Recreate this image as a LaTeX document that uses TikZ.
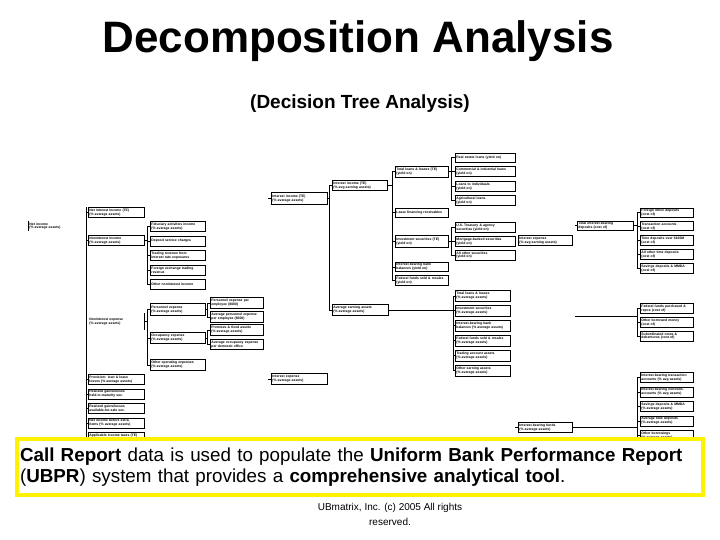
\documentclass[tikz,border=0pt]{standalone}
\usepackage{fontspec}
\setmainfont{Liberation Sans}
\usetikzlibrary{positioning}

\begin{document}
\begin{tikzpicture}[
    x=1pt, y=-1pt,
    node distance=3.6pt,
    block/.style={rectangle, draw, line width=0.9pt, minimum height=10pt, inner sep=1pt, text width=52pt, align=left, font=\fontsize{3.4}{3.7}\selectfont\bfseries},
    openblock/.style={block, draw=none},
    link/.style={line width=0.9pt},
    headline/.style={anchor=base, font=\fontsize{44}{48}\selectfont\bfseries},
    subline/.style={anchor=base, font=\fontsize{19}{22}\selectfont\bfseries},
    note/.style={draw=yellow, line width=4pt, fill=white, minimum width=686pt, minimum height=56pt, text width=680pt, inner sep=2pt, align=left, font=\fontsize{18.8}{21}\selectfont},
    footer/.style={anchor=north, align=center, font=\fontsize{10}{15}\selectfont}
]
\useasboundingbox (0,0) rectangle (720,540);

\node[headline] (head) at (358,53) {Decomposition Analysis};
\node[subline] (sub) at (360,109) {(Decision Tree Analysis)};

% first level
\node[openblock, anchor=west, text width=40pt] (netinc) at (28,226) {Net income\\(\% average assets)};
\draw[link] (netinc.north west) -- (netinc.south west);

\node[block, anchor=north west, text width=54pt] (a1) at (88,207) {Net interest income (TE)\\(\% average assets)};
\node[block, anchor=north west, text width=54pt] (a2) at (88,235) {Noninterest income\\(\% average assets)};
\node[openblock, anchor=north west, text width=54pt, minimum height=16pt] (a3) at (88,313) {Noninterest expense\\(\% average assets)};
\node[block, anchor=north west, text width=54pt] (a4) at (88,374) {Provision: loan \& lease\\losses (\% average assets)};
\node[block, below=of a4, text width=54pt] (a5) {Realized gains/losses\\held-to-maturity sec.};
\node[block, below=of a5, text width=54pt] (a6) {Realized gains/losses\\available-for-sale sec.};
\node[block, below=of a6, text width=54pt] (a7) {Net income before extra.\\items (\% average assets)};
\node[block, below=of a7, text width=54pt] (a8) {Applicable income taxes (TE)\\(\% average assets)};
\draw[link] (a3.north east) -- (a3.south east);

\coordinate (s1) at (86,207);
\coordinate (s1end) at (86,440);
\draw[link] (s1) -- (s1end);
\foreach \n in {a1,a2,a4,a5,a6,a7,a8}
    \draw[link] (\n.west -| s1) -- (\n.west);

% noninterest income
\node[block, anchor=north west, text width=53pt] (ni1) at (150,221) {Fiduciary activities income\\(\% average assets)};
\node[block, below=of ni1, text width=53pt] (ni2) {Deposit service charges};
\node[block, below=of ni2, text width=53pt] (ni3) {Trading revenue from\\interest rate exposures};
\node[block, below=of ni3, text width=53pt] (ni4) {Foreign exchange trading\\revenue};
\node[block, below=of ni4, text width=53pt] (ni5) {Other noninterest income};
\coordinate (s2) at (147,0);
\draw[link] (a2.east) -- (a2.east -| s2);
\draw[link] (ni1.west -| s2) -- (ni5.west -| s2);
\foreach \n in {ni1,ni2,ni3,ni4,ni5}
    \draw[link] (\n.west -| s2) -- (\n.west);

% noninterest expense
\node[block, anchor=north west, text width=53pt, minimum height=12pt] (ne1) at (150,303) {Personnel expense\\(\% average assets)};
\node[block, anchor=north west, text width=53pt, minimum height=11pt] (ne2) at (150,332) {Occupancy expense\\(\% average assets)};
\node[block, anchor=north west, text width=53pt, minimum height=11pt] (ne3) at (150,359) {Other operating expenses\\(\% average assets)};
\draw[link] (a3.east) -- (a3.east -| s2);
\draw[link] (ne1.west -| s2) -- (ne3.west -| s2);
\foreach \n in {ne1,ne2,ne3}
    \draw[link] (\n.west -| s2) -- (\n.west);

\node[block, anchor=north west, text width=51pt, minimum height=11pt] (pe1) at (210,297) {Personnel expense per\\employee (\$000)};
\node[block, anchor=north west, text width=51pt, minimum height=11pt] (pe2) at (210,311) {Average personnel expense\\per employee (\$000)};
\node[block, anchor=north west, text width=51pt, minimum height=11pt] (oc1) at (210,324) {Premises \& fixed assets\\(\% average assets)};
\node[block, anchor=north west, text width=51pt, minimum height=10pt] (oc2) at (210,339) {Average occupancy expense\\per domestic office};
\coordinate (s4) at (207,0);
\draw[link] (ne1.east) -- (ne1.east -| s4);
\draw[link] (pe1.west -| s4) -- (pe2.west -| s4);
\draw[link] (ne2.east) -- (ne2.east -| s4);
\draw[link] (oc1.west -| s4) -- (oc2.west -| s4);
\foreach \n in {pe1,pe2,oc1,oc2}
    \draw[link] (\n.west -| s4) -- (\n.west);

% interest income and expense
\node[block, anchor=north west, text width=54pt, minimum height=12pt] (b1) at (271,192) {Interest income (TE)\\(\% average assets)};
\node[block, anchor=north west, text width=54pt, minimum height=11pt] (b2) at (271,373) {Interest expense\\(\% average assets)};
\coordinate (s6) at (268,0);
\foreach \n in {b1,b2}
    \draw[link] (\n.west -| s6) -- (\n.west);

\node[block, anchor=north west, text width=53pt] (c1) at (332,180) {Interest income (TE)\\(\% avg earning assets)};
\node[block, anchor=north west, text width=54pt, minimum height=11pt] (c2) at (332,304) {Average earning assets\\(\% average assets)};
\coordinate (s7) at (329,0);
\draw[link] (b1.east) -- (b1.east -| s7);
\draw[link] (c1.west -| s7) -- (c2.west -| s7);
\foreach \n in {c1,c2}
    \draw[link] (\n.west -| s7) -- (\n.west);

% yields
\node[block, anchor=north west, text width=51pt, minimum height=11pt] (d1) at (395,166) {Total loans \& leases (TE)\\(yield on)};
\node[block, anchor=north west, text width=51pt, minimum height=9pt] (d2) at (395,208) {Lease financing receivables};
\node[block, anchor=north west, text width=51pt, minimum height=12pt] (d3) at (395,235) {Investment securities (TE)\\(yield on)};
\node[block, anchor=north west, text width=51pt, minimum height=9pt] (d4) at (395,262) {Interest-bearing bank\\balances (yield on)};
\node[block, anchor=north west, text width=51pt, minimum height=10pt] (d5) at (395,275) {Federal funds sold \& resales\\(yield on)};
\coordinate (s8) at (392,0);
\draw[link] (c1.east) -- (c1.east -| s8);
\draw[link] (d1.west -| s8) -- (d5.west -| s8);
\foreach \n in {d1,d2,d3,d4,d5}
    \draw[link] (\n.west -| s8) -- (\n.west);

\node[block, anchor=north west, text width=58pt, minimum height=9pt] (e1) at (455,153) {Real estate loans (yield on)};
\node[block, below=of e1, text width=58pt] (e2) {Commercial \& industrial loans\\(yield on)};
\node[block, below=of e2, text width=58pt] (e3) {Loans to individuals\\(yield on)};
\node[block, below=of e3, text width=58pt] (e4) {Agricultural loans\\(yield on)};
\node[block, anchor=north west, text width=58pt] (f1) at (455,222) {U.S. Treasury \& agency\\securities (yield on)};
\node[block, below=3pt of f1, text width=58pt] (f2) {Mortgage-backed securities\\(yield on)};
\node[block, below=3pt of f2, text width=58pt] (f3) {All other securities\\(yield on)};
\coordinate (s9) at (451,0);
\draw[link] (d1.east) -- (d1.east -| s9);
\draw[link] (e1.west -| s9) -- (e4.west -| s9);
\draw[link] (d3.east) -- (d3.east -| s9);
\draw[link] (f1.west -| s9) -- (f3.west -| s9);
\foreach \n in {e1,e2,e3,e4,f1,f2,f3}
    \draw[link] (\n.west -| s9) -- (\n.west);

% earning assets mix
\node[block, anchor=north west, text width=53pt, minimum height=11pt] (k1) at (455,290) {Total loans \& leases\\(\% average assets)};
\node[block, below=3pt of k1, text width=53pt, minimum height=11pt] (k2) {Investment securities\\(\% average assets)};
\node[block, below=3pt of k2, text width=53pt, minimum height=11pt] (k3) {Interest-bearing bank\\balances (\% average assets)};
\node[block, below=3pt of k3, text width=53pt, minimum height=11pt] (k4) {Federal funds sold \& resales\\(\% average assets)};
\node[block, below=3pt of k4, text width=53pt, minimum height=11pt] (k5) {Trading account assets\\(\% average assets)};
\node[block, below=3pt of k5, text width=53pt, minimum height=11pt] (k6) {Other earning assets\\(\% average assets)};
\coordinate (s11) at (453,0);
\draw[link] (c2.east) -- (c2.east -| s11);
\draw[link] (k1.west -| s11) -- (k6.west -| s11);
\foreach \n in {k1,k2,k3,k4,k5,k6}
    \draw[link] (\n.west -| s11) -- (\n.west);

% cost of funds
\node[block, anchor=north west, text width=52pt] (ie) at (518,235) {Interest expense\\(\% avg earning assets)};
\node[block, anchor=north west, text width=54pt, minimum height=9pt] (g0) at (577,221) {Total interest-bearing\\deposits (cost of)};
\coordinate (s12) at (575,0);
\draw[link] (g0.west -| s12) -- (g0.west);

\node[block, anchor=north west, text width=51pt, minimum height=9pt] (g1) at (640,208) {Foreign office deposits\\(cost of)};
\node[block, below=of g1, text width=51pt, minimum height=9pt] (g2) {Transaction accounts\\(cost of)};
\node[block, below=of g2, text width=51pt] (g3) {Time deposits over \$100M\\(cost of)};
\node[block, below=3pt of g3, text width=51pt] (g4) {All other time deposits\\(cost of)};
\node[block, below=of g4, text width=51pt] (g5) {Savings deposits \& MMDA\\(cost of)};
\coordinate (s13) at (637,0);
\draw[link] (g0.east) -- (g0.east -| s13);
\draw[link] (g1.west -| s13) -- (g5.west -| s13);

\coordinate (ob) at (575,316);
\node[block, anchor=north west, text width=51pt] (h1) at (640,303) {Federal funds purchased \&\\repos (cost of)};
\node[block, below=3pt of h1, text width=51pt] (h2) {Other borrowed money\\(cost of)};
\node[block, below=3pt of h2, text width=51pt] (h3) {Subordinated notes \&\\debentures (cost of)};
\draw[link] (ob) -- (ob -| s13);
\draw[link] (h1.west -| s13) -- (h3.west -| s13);

% funding mix
\node[block, anchor=north west, text width=52pt] (ib) at (518,422) {Interest-bearing funds\\(\% average assets)};
\coordinate (s15) at (515,0);
\draw[link] (ib.west -| s15) -- (ib.west);
\node[block, anchor=north west, text width=51pt] (m1) at (640,372) {Interest-bearing transaction\\accounts (\% avg assets)};
\node[block, below=of m1, text width=51pt] (m2) {Interest-bearing nontrans.\\accounts (\% avg assets)};
\node[block, below=of m2, text width=51pt] (m3) {Savings deposits \& MMDA\\(\% average assets)};
\node[block, below=of m3, text width=51pt] (m4) {Average time deposits\\(\% average assets)};
\node[block, below=of m4, text width=51pt] (m5) {Other borrowings\\(\% average assets)};
\coordinate (s16end) at (637,440);
\draw[link] (ib.east) -- (ib.east -| s13);
\draw[link] (m1.west -| s13) -- (s16end);
\foreach \n in {g1,g2,g3,g4,g5,h1,h2,h3,m1,m2,m3,m4,m5}
    \draw[link] (\n.west -| s13) -- (\n.west);

% note and footer
\node[note] (callout) at (360,467) {\textbf{Call Report} data is used to populate the \textbf{Uniform Bank Performance Report} (\textbf{UBPR}) system that provides a \textbf{comprehensive analytical tool}.};
\node[footer] (foot) at (390,500) {UBmatrix, Inc. (c) 2005 All rights\\reserved.};
\end{tikzpicture}
\end{document}
